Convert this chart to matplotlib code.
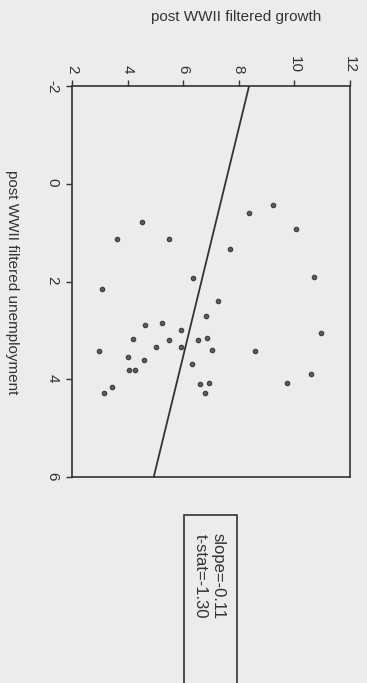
import numpy as np
import matplotlib.pyplot as plt
from matplotlib.patches import Rectangle

plt.rcParams['font.family'] = ['Liberation Sans', 'DejaVu Sans']

growth = [4.53, 3.63, 5.50, 6.34, 3.09, 4.61, 5.22, 5.91, 4.19, 5.49,
          6.52, 5.02, 5.93, 6.82, 7.26, 6.87, 2.97, 4.00, 4.60, 7.04,
          6.31, 4.04, 4.25, 3.45, 6.62, 6.92, 3.15, 6.79, 8.59, 10.60,
          9.75, 10.94, 8.37, 9.22, 10.07, 7.70, 10.72]
unemp = [0.79, 1.14, 1.14, 1.92, 2.16, 2.90, 2.84, 3.00, 3.18, 3.19,
         3.19, 3.33, 3.33, 2.70, 2.39, 3.15, 3.43, 3.54, 3.60, 3.40,
         3.69, 3.81, 3.82, 4.16, 4.09, 4.08, 4.28, 4.28, 3.42, 3.89,
         4.07, 3.05, 0.59, 0.43, 0.92, 1.34, 1.90]

# fitted line end points
fit_unemp = [-2, 6]
fit_growth = [8.37, 4.94]

growth_ticks = [2, 4, 6, 8, 10, 12]
unemp_ticks = [-2, 0, 2, 4, 6]
stats_text = "slope=-0.11\nt-stat=-1.30"

W, H = 367, 683
bg = '#ececec'
ink = '#333333'

fig = plt.figure(figsize=(W / 100, H / 100), dpi=100, facecolor=bg)
ax = fig.add_axes([72 / W, 1 - 477 / H, (350 - 72) / W, (477 - 86) / H])
ax.set_facecolor(bg)

ax.plot(fit_growth, fit_unemp, color=ink, lw=1.3)
ax.plot(growth, unemp, 'o', ms=3.2, color='#3a3a3a', mfc='#5e5e5e', mew=0.8)

ax.set_xlim(2, 12)
ax.set_ylim(6, -2)
ax.xaxis.tick_top()
ax.set_xticks(growth_ticks)
ax.set_yticks(unemp_ticks)
ax.set_xticklabels([str(t) for t in growth_ticks], rotation=-90)
ax.set_yticklabels([str(t) for t in unemp_ticks], rotation=-90)
ax.tick_params(direction='out', length=4, width=1, colors=ink,
               labelsize=11, pad=5)
for s in ax.spines.values():
    s.set_color(ink)
    s.set_linewidth(1.2)

fig.text(236 / W, 1 - 17 / H, "post WWII filtered growth", ha='center',
         va='center', fontsize=11, color=ink)
fig.text(12 / W, 1 - 282 / H, "post WWII filtered unemployment",
         ha='center', va='center', rotation=-90, fontsize=11, color=ink)

# stats box, running off the bottom of the page
fig.patches.append(Rectangle((184 / W, -0.05), (237 - 184) / W,
                             1 - 515 / H + 0.05, transform=fig.transFigure,
                             fill=False, ec=ink, lw=1.2))
fig.text(209 / W, 1 - 533 / H, stats_text, ha='center', va='top',
         rotation=-90, fontsize=12, color=ink, linespacing=1.25)

fig.savefig("out.png", dpi=100, facecolor=bg)
